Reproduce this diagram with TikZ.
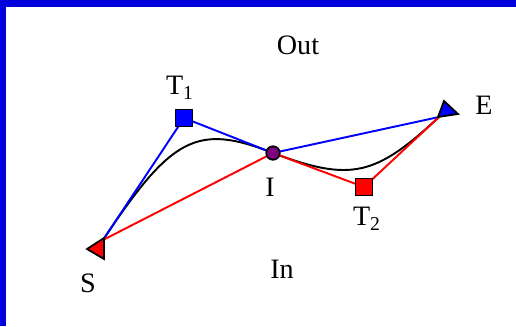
\documentclass[tikz,border=0pt]{standalone}
\usepackage{fontspec}
\setmainfont{Liberation Serif}
\usepackage{xcolor}
\usepackage{tikz}
\definecolor{framblue}{HTML}{0000DD}
\definecolor{ctrlblue}{HTML}{0000FF}
\definecolor{ctrlred}{HTML}{FF0000}
\definecolor{midpurple}{HTML}{800080}
\usetikzlibrary{calc}

\begin{document}
\begin{tikzpicture}[
          x=0.02cm, y=-0.02cm,
          every node/.style = {font=\fontsize{16}{19}\selectfont},
          bluearr/.style = {ctrlblue, line width=1.1pt},
          redarr/.style = {ctrlred, line width=1.1pt},
          curvearr/.style = {black, line width=1.1pt},
          sqmark/.style = {draw=black, rectangle, minimum size=0.34cm,
                           inner sep=0pt, line width=1pt},
          dotmark/.style = {draw=black, fill=midpurple, circle,
                            minimum size=0.27cm, inner sep=0pt, line width=1pt},
          trimark/.style = {draw=black, line width=1pt, line join=miter},
        ]
        \useasboundingbox (0,0) rectangle (516,326);

        %% Frame
        \fill[framblue] (0,0) rectangle (516,7);
        \fill[framblue] (0,0) rectangle (6,326);

        %% Points
        \coordinate (S)  at (103,240);
        \coordinate (T1) at (184,118);
        \coordinate (I)  at (273,153);
        \coordinate (T2) at (364,187);
        \coordinate (E)  at (439,117);

        %% Curve
        \draw[curvearr] (S) .. controls ($(S)!0.85!(T1)$) and ($(I)!0.85!(T1)$) .. (I)
                            .. controls ($(I)!0.85!(T2)$) and ($(E)!0.85!(T2)$) .. (E);

        %% Control polygons
        \draw[bluearr] (S) -- (T1) -- (I) -- (E);
        \draw[redarr]  (S) -- (I) -- (T2) -- (E);

        %% Markers
        \node[sqmark, fill=ctrlblue] (T1box) at (T1) {};
        \node[sqmark, fill=ctrlred]  (T2box) at (T2) {};
        \node[dotmark] (Idot) at (I) {};
        \filldraw[trimark, fill=ctrlred] (87,249) -- (104,238) -- (104,259) -- cycle;
        \filldraw[trimark, fill=ctrlblue] (444,101) -- (458,114) -- (438,117) -- cycle;

        %% Labels
        \node (lblOut) at (298,45)  {Out};
        \node (lblIn)  at (282,269) {In};
        \node (lblT1)  at (180,88)  {T\textsubscript{1}};
        \node (lblT2)  at (367,219) {T\textsubscript{2}};
        \node (lblI)   at (270,187) {I};
        \node (lblS)   at (88,283)  {S};
        \node (lblE)   at (484,105) {E};
      \end{tikzpicture}
\end{document}
